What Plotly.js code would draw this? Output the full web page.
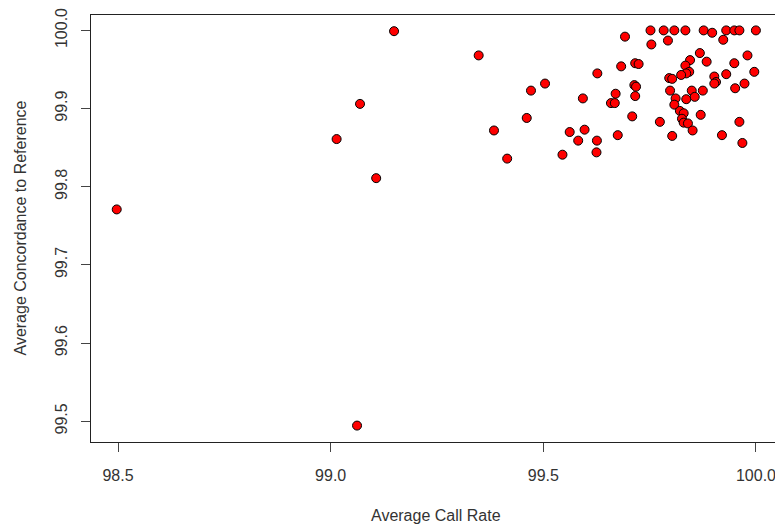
<!DOCTYPE html>
<html>
<head>
<meta charset="utf-8">
<script src="https://cdn.plot.ly/plotly-3.0.1.min.js"></script>
<style>html,body{margin:0;padding:0;background:#fff;}#chart{width:775px;height:525px;}</style>
</head>
<body>
<div id="chart"></div>
<script>
// Average call rate (x) and average concordance to reference (y), one entry per sample
const callRate = [
  98.497, 99.062, 99.014, 99.069, 99.107, 99.149,
  99.348, 99.471, 99.504, 99.593, 99.627, 99.683, 99.670, 99.659, 99.668,
  99.461, 99.384, 99.415, 99.562, 99.582, 99.597, 99.545, 99.626, 99.625, 99.675,
  99.692, 99.752, 99.783, 99.808, 99.834, 99.877, 99.897, 99.930, 99.949, 99.961, 99.9998,
  99.754, 99.793, 99.923,
  99.716, 99.724, 99.868, 99.845, 99.884, 99.834, 99.843, 99.836, 99.824, 99.796, 99.803,
  99.980, 99.949, 99.996, 99.930, 99.902, 99.906, 99.902, 99.951, 99.973,
  99.714, 99.718, 99.716,
  99.798, 99.849, 99.875, 99.811, 99.836, 99.856, 99.808,
  99.821, 99.830, 99.826, 99.830, 99.840, 99.851, 99.870, 99.774, 99.709,
  99.803, 99.920, 99.961, 99.968
];
const concordance = [
  99.771, 99.4945, 99.861, 99.906, 99.811, 99.999,
  99.968, 99.923, 99.932, 99.913, 99.945, 99.954, 99.919, 99.907, 99.907,
  99.888, 99.872, 99.836, 99.870, 99.859, 99.873, 99.841, 99.859, 99.844, 99.866,
  99.992, 100.0, 100.0, 100.0, 100.0, 100.0, 99.997, 100.0, 100.0, 100.0, 100.0,
  99.982, 99.987, 99.988,
  99.958, 99.957, 99.971, 99.962, 99.960, 99.955, 99.947, 99.945, 99.943, 99.939, 99.938,
  99.968, 99.958, 99.947, 99.944, 99.941, 99.934, 99.932, 99.926, 99.932,
  99.930, 99.928, 99.916,
  99.923, 99.923, 99.923, 99.913, 99.912, 99.915, 99.905,
  99.897, 99.894, 99.887, 99.882, 99.881, 99.872, 99.892, 99.883, 99.890,
  99.865, 99.866, 99.883, 99.856
];
const xTicks = [98.5, 99.0, 99.5, 100.0];
const xTickText = ['98.5', '99.0', '99.5', '100.0'];
const yTicks = [99.5, 99.6, 99.7, 99.8, 99.9, 100.0];
const yTickText = ['99.5', '99.6', '99.7', '99.8', '99.9', '100.0'];

const font = {family: 'Liberation Sans, Arial, sans-serif', size: 16, color: '#333'};

const trace = {
  x: callRate, y: concordance, type: 'scatter', mode: 'markers',
  marker: {size: 9, color: '#ff0000', line: {color: '#000', width: 1}},
  hoverinfo: 'x+y'
};

const layout = {
  width: 775, height: 525,
  margin: {l: 91, r: 0, t: 15, b: 83, pad: 0},
  paper_bgcolor: '#fff', plot_bgcolor: '#fff',
  showlegend: false,
  font: font,
  xaxis: {
    range: [98.4365, 100.0447], showgrid: false, zeroline: false,
    showline: true, linecolor: '#222', linewidth: 1, mirror: true,
    ticks: 'outside', ticklen: 9, tickcolor: '#444', tickwidth: 1,
    tickvals: xTicks, ticktext: xTickText, tickfont: font, automargin: false,
    ticklabeloverflow: 'allow', ticklabelstandoff: 10
  },
  yaxis: {
    range: [99.4735, 100.0197], showgrid: false, zeroline: false,
    showline: true, linecolor: '#222', linewidth: 1, mirror: false,
    ticks: 'outside', ticklen: 9, tickcolor: '#444', tickwidth: 1,
    tickvals: yTicks, ticktext: yTickText, tickangle: -90, tickfont: font, automargin: false,
    ticklabeloverflow: 'allow', ticklabelstandoff: 8
  },
  annotations: [
    {text: 'Average Call Rate', xref: 'paper', yref: 'paper', x: 0.504, y: -0.171,
     xanchor: 'center', yanchor: 'middle', showarrow: false, font: font},
    {text: 'Average Concordance to Reference', xref: 'paper', yref: 'paper', x: -0.1038, y: 0.5,
     xanchor: 'center', yanchor: 'middle', textangle: -90, showarrow: false, font: font}
  ]
};

Plotly.newPlot('chart', [trace], layout, {staticPlot: true, displayModeBar: false});
</script>
</body>
</html>
